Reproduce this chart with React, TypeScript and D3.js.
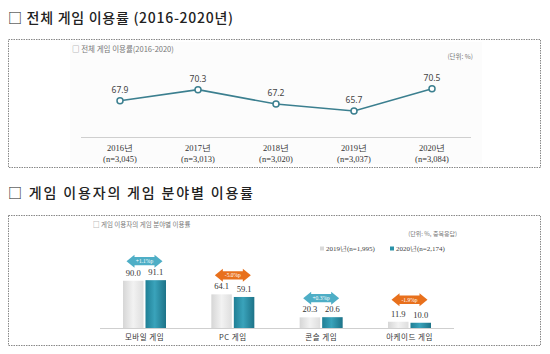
import React from "react";
import * as d3 from "d3";

const years = ["2016년", "2017년", "2018년", "2019년", "2020년"];
const samples = ["(n=3,045)", "(n=3,013)", "(n=3,020)", "(n=3,037)", "(n=3,084)"];
const rates = [67.9, 70.3, 67.2, 65.7, 70.5];

const genres = ["모바일 게임", "PC 게임", "콘솔 게임", "아케이드 게임"];
const v2019 = [90.0, 64.1, 20.3, 11.9];
const v2020 = [91.1, 59.1, 20.6, 10.0];
const diffs = ["+1.1%p", "-5.0%p", "+0.3%p", "-1.9%p"];
const seriesNames = ["2019년(n=1,995)", "2020년(n=2,174)"];

const KR = "'Noto Sans CJK KR', 'Noto Sans', sans-serif";
const SERIF = "'Liberation Serif', 'DejaVu Serif', serif";
const TEAL = "#3b7f8f";

function arrowPath(cx: number, cy: number, w: number, h: number) {
  const head = 8;
  const sh = h * 0.32;
  const l = cx - w / 2, r = cx + w / 2;
  return `M${l},${cy} L${l + head},${cy - h / 2} L${l + head},${cy - sh} L${r - head},${cy - sh} L${r - head},${cy - h / 2} L${r},${cy} L${r - head},${cy + h / 2} L${r - head},${cy + sh} L${l + head},${cy + sh} L${l + head},${cy + h / 2} Z`;
}

export default function App() {
  const x1 = d3.scalePoint<string>().domain(years).range([120, 432]);
  const y1 = d3.scaleLinear().domain([65.7, 70.5]).range([111, 88.7]);
  const line = d3
    .line<number>()
    .x((_, i) => x1(years[i])!)
    .y((d) => y1(d));

  const xb = d3.scalePoint<string>().domain(genres).range([144.5, 409.5]);
  const yb = d3.scaleLinear().domain([0, 100]).range([328, 275.5]);
  const bw = 20.5;

  return (
    <svg width={550} height={354} style={{ position: "absolute", left: 0, top: 0, background: "#fff" }}>
      <defs>
        <linearGradient id="g19" x1="0" x2="1" y1="0" y2="0">
          <stop offset="0" stopColor="#d6d6d6" />
          <stop offset="0.5" stopColor="#f2f2f2" />
          <stop offset="1" stopColor="#dedede" />
        </linearGradient>
        <linearGradient id="g20" x1="0" x2="1" y1="0" y2="0">
          <stop offset="0" stopColor="#1f7f95" />
          <stop offset="0.45" stopColor="#3aa3bb" />
          <stop offset="1" stopColor="#1d7388" />
        </linearGradient>
      </defs>

      <text x={8} y={23} fontFamily={KR} fontSize={14} fontWeight={500} fill="#222" textLength={225} lengthAdjust="spacing">
        □ 전체 게임 이용률 (2016-2020년)
      </text>
      <rect x={8.5} y={39.5} width={532} height={128} fill="none" stroke="#888" strokeDasharray="1.5,1" />
      <rect x={70} y={42} width={412} height={122} fill="#fcfcfc" />
      <text x={72} y={52} fontFamily={KR} fontSize={7.5} fill="#777">
        □ 전체 게임 이용률(2016-2020)
      </text>
      <text x={473} y={59} textAnchor="end" fontFamily={KR} fontSize={6.5} fill="#777">
        (단위: %)
      </text>
      <line x1={81} x2={471} y1={137.5} y2={137.5} stroke="#cfcfcf" strokeWidth={1} />
      <path d={line(rates) || ""} fill="none" stroke={TEAL} strokeWidth={1.6} />
      {rates.map((v, i) => (
        <g key={i}>
          <circle cx={x1(years[i])} cy={y1(v)} r={3} fill="#fff" stroke={TEAL} strokeWidth={1.5} />
          <text x={x1(years[i])} y={y1(v) - 8} textAnchor="middle" fontFamily="'Noto Sans', sans-serif" fontSize={8.5} fill="#444">
            {v.toFixed(1)}
          </text>
          <text x={x1(years[i])} y={151} textAnchor="middle" fontFamily={SERIF} fontSize={8.5} fill="#333">
            {years[i]}
          </text>
          <text x={x1(years[i])} y={162} textAnchor="middle" fontFamily={SERIF} fontSize={8.5} fill="#333">
            {samples[i]}
          </text>
        </g>
      ))}

      <text x={8} y={198} fontFamily={KR} fontSize={14} fontWeight={500} fill="#222" textLength={245} lengthAdjust="spacing">
        □ 게임 이용자의 게임 분야별 이용률
      </text>
      <rect x={8.5} y={215.5} width={532} height={130} fill="none" stroke="#888" strokeDasharray="1.5,1" />
      <text x={93} y={227} fontFamily={KR} fontSize={6.5} fill="#777">
        □ 게임 이용자의 게임 분야별 이용률
      </text>
      <text x={457} y={236} textAnchor="end" fontFamily={KR} fontSize={6} fill="#777">
        (단위: %, 중복응답)
      </text>
      <rect x={320} y={246.5} width={4} height={4} fill="#d9d9d9" />
      <text x={326} y={251} fontFamily={SERIF} fontSize={7} fill="#444">{seriesNames[0]}</text>
      <rect x={390} y={246.5} width={4} height={4} fill="#2a92a8" />
      <text x={396} y={251} fontFamily={SERIF} fontSize={7} fill="#444">{seriesNames[1]}</text>

      <line x1={100} x2={454} y1={328.5} y2={328.5} stroke="#cfcfcf" />
      {genres.map((g, i) => {
        const cx = xb(g)!;
        const top = Math.min(yb(v2019[i]), yb(v2020[i]));
        const up = diffs[i].startsWith("+");
        const ay = top - (i === 3 ? 22 : 19);
        return (
          <g key={g}>
            <rect x={cx - bw - 1} y={yb(v2019[i])} width={bw} height={328 - yb(v2019[i])} fill="url(#g19)" />
            <rect x={cx + 1} y={yb(v2020[i])} width={bw} height={328 - yb(v2020[i])} fill="url(#g20)" />
            <text x={cx - bw / 2 - 1} y={yb(v2019[i]) - 5} textAnchor="middle" fontFamily={SERIF} fontSize={8.5} fill="#333">
              {v2019[i].toFixed(1)}
            </text>
            <text x={cx + bw / 2 + 1} y={yb(v2020[i]) - 5} textAnchor="middle" fontFamily={SERIF} fontSize={8.5} fill="#333">
              {v2020[i].toFixed(1)}
            </text>
            <path d={arrowPath(cx, ay, 36, 13)} fill={up ? "#4eaec6" : "#e8701c"} />
            <text x={cx} y={ay + 2} textAnchor="middle" fontFamily={SERIF} fontSize={5.5} fill="#fff">
              {diffs[i]}
            </text>
            <text x={cx} y={340} textAnchor="middle" fontFamily={KR} fontSize={7.5} fill="#333" letterSpacing={0.5}>
              {g}
            </text>
          </g>
        );
      })}
    </svg>
  );
}
